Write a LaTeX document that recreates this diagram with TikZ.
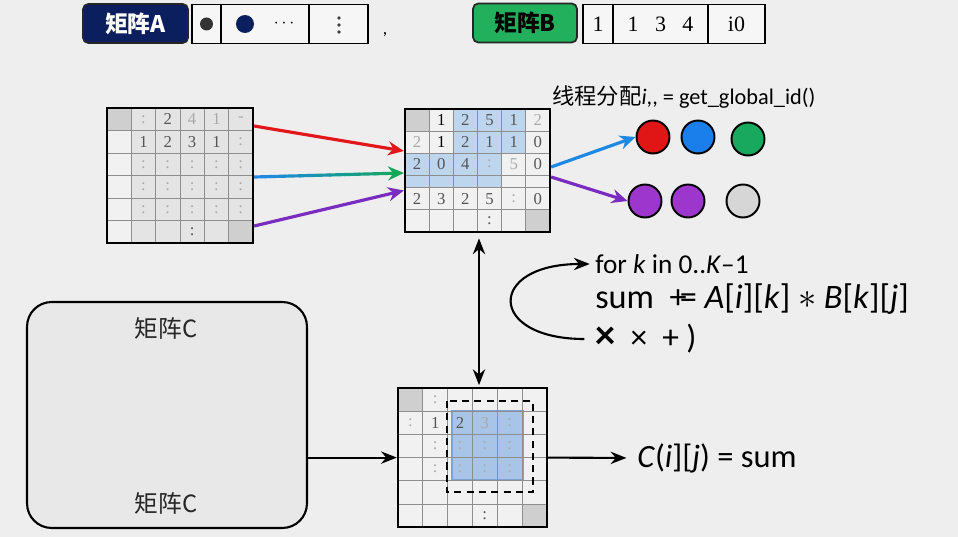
\documentclass[tikz,border=0pt]{standalone}
\usepackage{fontspec}
\setmainfont{Carlito}
\newfontfamily\cjk{Noto Sans CJK SC}
\newfontfamily\digitfont{Liberation Serif}
\usetikzlibrary{arrows.meta,calc,positioning}

\definecolor{paper}{HTML}{EEEEEE}
\definecolor{navyA}{HTML}{0B1F5E}
\definecolor{greenB}{HTML}{22B05D}
\definecolor{slotfill}{HTML}{F6F6F6}
\definecolor{cellgray}{HTML}{E4E4E4}
\definecolor{cellwhite}{HTML}{F1F1F1}
\definecolor{celldark}{HTML}{CFCFCF}
\definecolor{gridgray}{HTML}{8E8E8E}
\definecolor{cellblue}{HTML}{BED5EE}
\definecolor{squareblue}{HTML}{A8C4E6}
\definecolor{squareedge}{HTML}{7FA2CF}
\definecolor{numgray}{HTML}{555555}
\definecolor{arrred}{HTML}{E3161B}
\definecolor{arrblue}{HTML}{1E88E5}
\definecolor{arrgreen}{HTML}{14A85A}
\definecolor{arrpurple}{HTML}{7A2CC0}
\definecolor{ballred}{HTML}{E01515}
\definecolor{ballblue}{HTML}{1A7FEA}
\definecolor{ballgreen}{HTML}{18A85E}
\definecolor{ballpurple}{HTML}{9C36CC}
\definecolor{ballgray}{HTML}{D6D6D6}
\definecolor{boxgray}{HTML}{E8E8E8}

\begin{document}
\begin{tikzpicture}[x=0.02cm, y=-0.02cm,
    tagbox/.style={rounded corners=3pt, draw=black!85, line width=1pt, minimum height=0.78cm, inner sep=0pt, font=\cjk\bfseries\fontsize{13}{13}\selectfont},
    slot/.style={draw=black, line width=0.9pt, fill=slotfill, minimum height=0.78cm, inner sep=0pt, font=\digitfont\fontsize{12.5}{12.5}\selectfont},
    dotmark/.style={circle, inner sep=0pt},
    mat/.style={draw=black, line width=1.3pt, inner sep=0pt},
    gridline/.style={draw=gridgray, line width=0.5pt},
    num/.style={font=\digitfont\fontsize{9.5}{9.5}\selectfont, text=numgray, inner sep=0pt},
    faint/.style={text=numgray!50},
    ball/.style={circle, draw=black, line width=1.1pt, minimum size=0.66cm, inner sep=0pt},
    colarrow/.style={line width=1.8pt, -{Stealth[length=9pt, width=8pt]}},
    blackarrow/.style={line width=1.2pt, -{Stealth[length=9pt, width=7pt]}},
    code/.style={anchor=west, inner sep=0pt},
    ctext/.style={font=\cjk\fontsize{13.5}{13.5}\selectfont, text=black!85}]

  \fill[paper] (0,0) rectangle (958,537);
  \useasboundingbox (0,0) rectangle (958,537);

  % matrix A strip
  \node[tagbox, fill=navyA, text=white, minimum width=2.1cm] (ta) at (135.5,23.5) {矩阵A};
  \node[slot, minimum width=0.58cm] (sa1) at (206.5,24) {};
  \node[slot, minimum width=1.76cm] (sa2) at (265,24) {};
  \node[slot, minimum width=1.18cm] (sa3) at (338.5,24) {};
  \node[dotmark, fill=black!80, minimum size=0.26cm] (da1) at (sa1.center) {};
  \node[dotmark, fill=navyA, minimum size=0.36cm] (da2) at (245,24) {};
  \node (dots) at (284,24) {\fontsize{10}{10}\selectfont$\cdots$};
  \node[dotmark, fill=black!75, minimum size=2pt] (va1) at (339,18) {};
  \node[dotmark, fill=black!75, minimum size=2pt] (va2) at (339,25) {};
  \node[dotmark, fill=black!75, minimum size=2pt] (va3) at (339,32) {};
  \node (comma) at (385,35) {,};

  % matrix B strip
  \node[tagbox, fill=greenB, text=black, minimum width=2.08cm] (tb) at (525,23) {矩阵B};
  \node[slot, minimum width=0.6cm] (sb1) at (598,24) {1};
  \node[slot, minimum width=1.9cm] (sb2) at (660.5,24) {1\hspace{0.75em}3\hspace{0.75em}4};
  \node[slot, minimum width=1.14cm] (sb3) at (736.5,24) {i0};

  % left matrix
  \begin{scope}[shift={(107,108)}, x=0.4866cm, y=-0.45cm]
    \fill[cellgray] (0,0) rectangle (6,6);
    \fill[cellwhite] (0,1) rectangle (1,6);
    \fill[celldark] (0,0) rectangle (1,1);
    \fill[celldark] (5,5) rectangle (6,6);
    \foreach \i in {1,...,5} {
      \draw[gridline] (\i,0) -- (\i,6);
      \draw[gridline] (0,\i) -- (6,\i);
    }
    \node[num, faint] at (1.5,0.5) {:};
    \node[num] at (2.5,0.5) {2};
    \node[num, faint] at (3.5,0.5) {4};
    \node[num, faint] at (4.5,0.5) {1};
    \node[num, faint] at (5.5,0.5) {-};
    \node[num] at (1.5,1.5) {1};
    \node[num] at (2.5,1.5) {2};
    \node[num] at (3.5,1.5) {3};
    \node[num] at (4.5,1.5) {1};
    \node[num, faint] at (5.5,1.5) {:};
    \foreach \r in {2.5,3.5,4.5}
      \foreach \c in {1.5,2.5,...,5.5}
        \node[num, faint] at (\c,\r) {:};
    \node[num] at (3.5,5.5) {:};
  \end{scope}
  \node[mat, minimum width=2.92cm, minimum height=2.7cm] (ma) at (180,175.5) {};

  % middle matrix
  \begin{scope}[shift={(405,109)}, x=0.4833cm, y=-0.44cm]
    \fill[cellwhite] (0,0) rectangle (6,5.58);
    \fill[cellblue] (2,0) rectangle (5,2);
    \fill[cellblue] (0,2) rectangle (4,3.58);
    \fill[celldark] (0,0) rectangle (1,1);
    \fill[celldark] (5,4.58) rectangle (6,5.58);
    \foreach \i in {1,...,5}
      \draw[gridline] (\i,0) -- (\i,5.58);
    \foreach \j in {1,2,3,3.58,4.58}
      \draw[gridline] (0,\j) -- (6,\j);
    \node[num, text=black] at (1.5,0.5) {1};
    \node[num] at (2.5,0.5) {2};
    \node[num] at (3.5,0.5) {5};
    \node[num] at (4.5,0.5) {1};
    \node[num, faint] at (5.5,0.5) {2};
    \node[num, faint] at (0.5,1.5) {2};
    \node[num, text=black] at (1.5,1.5) {1};
    \node[num] at (2.5,1.5) {2};
    \node[num] at (3.5,1.5) {1};
    \node[num] at (4.5,1.5) {1};
    \node[num] at (5.5,1.5) {0};
    \node[num] at (0.5,2.5) {2};
    \node[num] at (1.5,2.5) {0};
    \node[num] at (2.5,2.5) {4};
    \node[num, faint] at (3.5,2.5) {:};
    \node[num, faint] at (4.5,2.5) {5};
    \node[num] at (5.5,2.5) {0};
    \node[num] at (0.5,4.08) {2};
    \node[num] at (1.5,4.08) {3};
    \node[num] at (2.5,4.08) {2};
    \node[num] at (3.5,4.08) {5};
    \node[num, faint] at (4.5,4.08) {:};
    \node[num] at (5.5,4.08) {0};
    \node[num] at (3.5,5.08) {:};
  \end{scope}
  \node[mat, minimum width=2.9cm, minimum height=2.46cm] (mb) at (477.5,170.5) {};

  % arrows into the middle matrix
  \draw[colarrow, arrred] ($(ma.east)+(0,-49.5)$) -- ($(mb.west)+(0,-19.5)$);
  \coordinate (g0) at ($(ma.east)+(0,1.5)$);
  \coordinate (g1) at ($(mb.west)+(0,2.5)$);
  \foreach \k [evaluate=\k as \p using int(\k*11)] in {0,...,8}
    \draw[line width=1.8pt, arrgreen!\p!arrblue] ($(g0)!\k/10!(g1)$) -- ($(g0)!\k/10+0.11!(g1)$);
  \draw[colarrow, arrgreen] ($(g0)!0.9!(g1)$) -- (g1);
  \draw[colarrow, arrpurple] ($(ma.east)+(0,50.5)$) -- ($(mb.west)+(0,20)$);

  % threads
  \node[code, font=\fontsize{12.7}{12.7}\selectfont] (tid) at (552,97) {{\cjk 线程分配}\textit{i}{,}{,} = get\_global\_id()};
  \node[ball, fill=ballred] (b1) at (653,137) {};
  \node[ball, fill=ballblue] (b2) at (698,137) {};
  \node[ball, fill=ballgreen] (b3) at (748,139) {};
  \node[ball, fill=ballpurple] (b4) at (645,201) {};
  \node[ball, fill=ballpurple] (b5) at (688,201) {};
  \node[ball, fill=ballgray] (b6) at (743,201) {};
  \draw[colarrow, arrblue] ($(mb.east)+(0,-3.5)$) -- (b1.west);
  \draw[colarrow, arrpurple] ($(mb.east)+(0,6.5)$) -- (b4.west);

  % loop body
  \node[code, font=\fontsize{15.5}{15.5}\selectfont] (lfor) at (595,264) {for \textit{k} in 0..\textit{K}–1};
  \node[code, font=\fontsize{19.5}{19.5}\selectfont] (lsum) at (595,299) {sum\ \ {+}\kern-0.2em{=} \textit{A}[\textit{i}][\textit{k}] $*$ \textit{B}[\textit{k}][\textit{j}]};
  \node[code, font=\fontsize{19}{19}\selectfont] (lx) at (595,339) {{\bfseries\fontsize{23}{23}\selectfont ×}\ \ ×\ \ +\ )};
  \draw[blackarrow, shorten <=6pt, shorten >=3pt] (lx.west) to[out=180, in=180, looseness=3.7] (lfor.west);

  % bottom matrix
  \begin{scope}[shift={(398,388)}, x=0.496cm, y=-0.464cm]
    \fill[cellwhite] (0,0) rectangle (6,6);
    \fill[celldark] (0,0) rectangle (1,1);
    \fill[celldark] (5,5) rectangle (6,6);
    \fill[squareblue, draw=squareedge, line width=0.8pt] (2.18,0.99) rectangle (5.04,3.97);
    \foreach \i in {1,...,5} {
      \draw[gridline] (\i,0) -- (\i,6);
      \draw[gridline] (0,\i) -- (6,\i);
    }
    \node[num, faint] at (1.5,0.5) {:};
    \node[num, faint] at (0.5,1.5) {:};
    \node[num] at (1.5,1.5) {1};
    \node[num] at (2.5,1.5) {2};
    \node[num, faint] at (3.5,1.5) {3};
    \node[num, faint] at (4.5,1.5) {:};
    \foreach \r in {2.5,3.5}
      \foreach \c in {1.5,2.5,...,4.5}
        \node[num, faint] at (\c,\r) {:};
    \node[num] at (3.5,5.5) {:};
  \end{scope}
  \node[mat, minimum width=2.976cm, minimum height=2.784cm] (mc) at (472.4,457.6) {};
  \draw[black, line width=1.5pt, dash pattern=on 4pt off 3pt] (447,401) rectangle (533,492);

  % double arrow between the matrices
  \draw[line width=1.2pt, {Stealth[length=9pt, width=7pt]}-{Stealth[length=9pt, width=7pt]}, shorten <=3pt, shorten >=1pt]
    ($(mb.south)+(1.5,0)$) -- ($(mb.south |- mc.north)+(1.5,0)$);

  % matrix C
  \node[draw=black, line width=1.2pt, fill=boxgray, rounded corners=14pt, minimum width=5.6cm, minimum height=4.52cm] (cbox) at (167,415) {};
  \node[ctext] (cl1) at (166,328) {矩阵C};
  \node[ctext] (cl2) at (166,503) {矩阵C};
  \draw[blackarrow] (cbox.east |- mc.west) -- (mc.west);

  % result
  \node[code, font=\fontsize{18.5}{18.5}\selectfont] (res) at (637,458) {\textit{C}(\textit{i}][\textit{j}) = sum};
  \draw[blackarrow, shorten >=6pt] (mc.east) -- (res.west);
\end{tikzpicture}
\end{document}
